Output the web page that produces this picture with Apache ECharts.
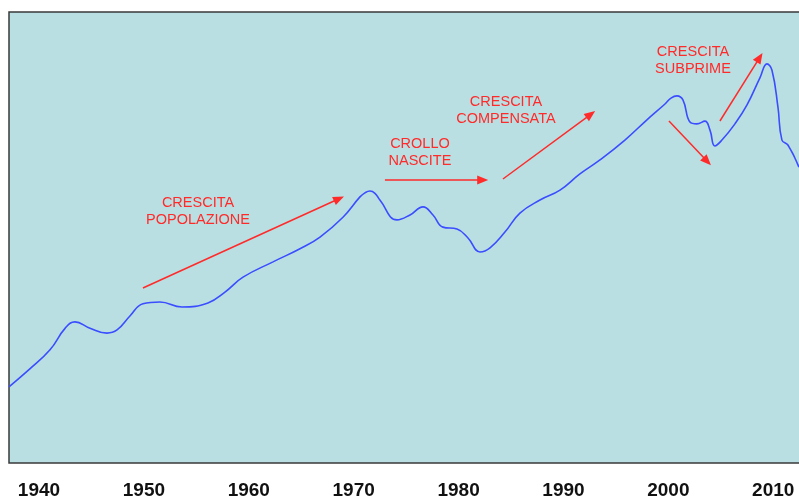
<!DOCTYPE html>
<html>
<head>
<meta charset="utf-8">
<style>
html,body{margin:0;padding:0;background:#fff;}
#c{width:799px;height:500px;}
</style>
<script src="https://cdn.jsdelivr.net/npm/echarts@6/dist/echarts.min.js"></script>
</head>
<body>
<div id="c"></div>
<script>
// ---- data ----
var years = [1937.14,1939.1,1941.05,1942.5,1943.43,1944.86,1946.48,1947.44,1948.67,1949.91,1951.53,1953.63,1956.11,1957.73,1959.45,1962.31,1964.88,1966.79,1968.98,1970.6,1971.07,1971.55,1972.03,1972.5,1974.13,1975.37,1976.61,1977.56,1978.51,1979.85,1980.9,1982.04,1983.0,1984.42,1985.85,1987.76,1989.67,1991.57,1993.48,1995.86,1997.96,1999.68,2000.25,2000.82,2001.39,2002.06,2002.72,2003.49,2003.97,2004.44,2005.11,2006.35,2007.5,2008.73,2009.4,2009.88,2010.45,2010.83,2011.4,2012.45];
var values = [16.9,20.8,25.1,29.9,31.3,29.9,28.8,29.5,32.6,35.3,35.7,34.6,35.5,37.9,41.2,44.6,47.5,50.1,54.5,59.0,59.9,60.3,59.8,58.3,53.9,55.0,56.8,55.0,52.3,51.9,49.9,46.8,47.7,51.2,55.4,58.3,60.5,64.1,67.2,71.6,76.1,79.6,80.9,81.4,80.5,75.6,75.2,75.8,73.8,70.3,71.6,75.2,79.4,85.4,88.5,87.1,78.9,71.6,70.5,65.6];
var tickYears = [1940,1950,1960,1970,1980,1990,2000,2010];
var labelTexts = ['CRESCITA\nPOPOLAZIONE','CROLLO\nNASCITE','CRESCITA\nCOMPENSATA','CRESCITA\nSUBPRIME'];
var labelYears = [1955.16,1976.32,1984.52,2002.35];
var labelValues = [55.76,68.74,78.05,89.25];
var arrowFromYears = [1949.91,1972.98,1984.23,2000.06,2004.92];
var arrowFromValues = [38.8,62.75,62.97,75.83,75.83];
var arrowToYears = [1968.6,1982.3,1992.6,2003.7,2008.7];
var arrowToValues = [58.6,62.75,77.3,66.9,89.9];

var chart = echarts.init(document.getElementById('c'));
var lineData = years.map(function(y,i){return [y, values[i]];});
var arrows = arrowFromYears.map(function(y,i){
  return [{coord:[y, arrowFromValues[i]]},{coord:[arrowToYears[i], arrowToValues[i]]}];
});
var texts = labelTexts.map(function(t,i){
  return {coord:[labelYears[i], labelValues[i]], value:t};
});
var FONT = '"Liberation Sans", Arial, sans-serif';
chart.setOption({
  animation:false,
  grid:{left:9, right:-10, top:12, bottom:37, show:true, outerBoundsMode:'none', containLabel:false,
    backgroundColor:'#badfe2', borderColor:'#3a3a3a', borderWidth:1.5},
  xAxis:{type:'value', min:1937.14, max:2013.41,
    axisLine:{show:false}, axisTick:{show:false}, splitLine:{show:false},
    axisLabel:{customValues:tickYears, formatter:function(v){return String(v);}, color:'#111', fontSize:19, fontWeight:'bold', fontFamily:FONT, margin:18}
  },
  yAxis:{type:'value', min:0, max:100, show:false, splitLine:{show:false}},
  series:[{
    type:'line', data:lineData, smooth:0.45, showSymbol:false, symbol:'none',
    lineStyle:{color:'#3a4dff', width:1.6},
    silent:true,
    markLine:{silent:true, symbol:['none','triangle'], symbolSize:[9,11],
      lineStyle:{color:'#ff2a2a', width:1.5, type:'solid'},
      label:{show:false}, emphasis:{disabled:true}, data:arrows},
    markPoint:{silent:true, symbol:'circle', symbolSize:0,
      label:{show:true, position:'inside', formatter:function(p){return p.value;}, color:'#ff2a2a', fontSize:14.5, fontFamily:FONT, lineHeight:17, align:'center', verticalAlign:'middle'},
      data:texts}
  }]
});
</script>
</body>
</html>
